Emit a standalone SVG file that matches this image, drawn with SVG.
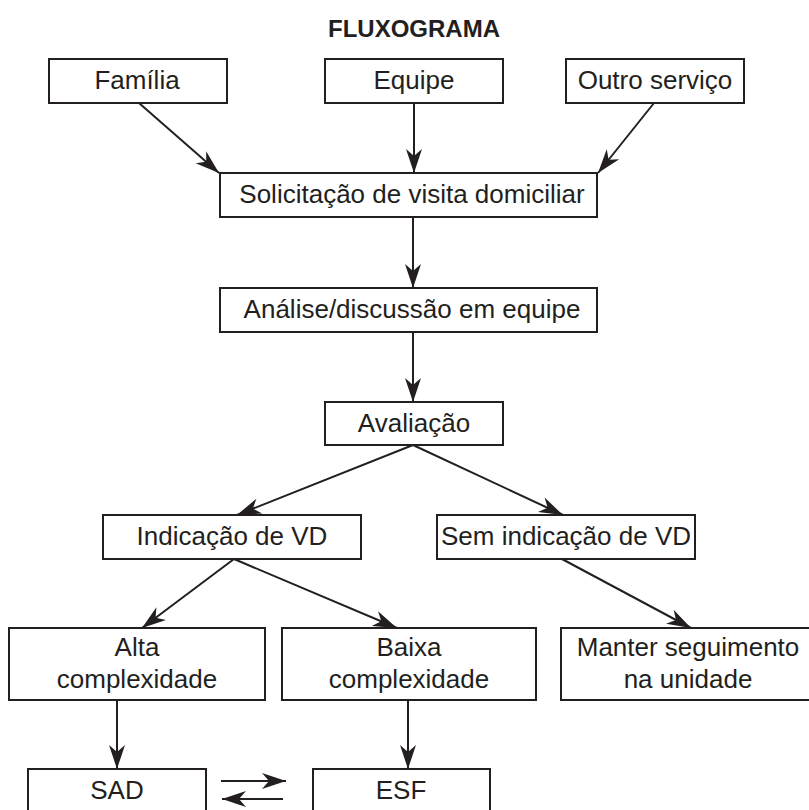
<svg xmlns="http://www.w3.org/2000/svg" width="809" height="810" viewBox="0 0 809 810">
<style>
  .box { fill: #ffffff; stroke: #231f20; stroke-width: 2; }
  .lbl { font-family: "Liberation Sans", Arial, sans-serif; font-size: 26px; fill: #231f20; text-anchor: middle; }
  .title { font-family: "Liberation Sans", Arial, sans-serif; font-size: 24px; font-weight: bold; fill: #231f20; text-anchor: middle; }
  .conn line { stroke: #231f20; stroke-width: 2; marker-end: url(#ah); }
</style>
<defs>
  <marker id="ah" markerUnits="userSpaceOnUse" orient="auto" viewBox="-26 -11 28 22" refX="0" refY="0" markerWidth="28" markerHeight="22">
    <path d="M0,0 L-24,-8 L-17,0 L-24,8 Z" fill="#231f20"/>
  </marker>
</defs>
<rect width="809" height="810" fill="#ffffff"/>
<text class="title" x="414" y="37">FLUXOGRAMA</text>

<g id="familia"><rect class="box" x="49" y="59" width="178" height="44"/><text class="lbl" x="137" y="89">Família</text></g>
<g id="equipe"><rect class="box" x="325" y="59" width="178" height="44"/><text class="lbl" x="414" y="89">Equipe</text></g>
<g id="outro"><rect class="box" x="566" y="59" width="178" height="44"/><text class="lbl" x="655" y="89">Outro serviço</text></g>
<g id="solicitacao"><rect class="box" x="220" y="173" width="377" height="44"/><text class="lbl" x="412" y="203">Solicitação de visita domiciliar</text></g>
<g id="analise"><rect class="box" x="220" y="288" width="377" height="44"/><text class="lbl" x="412" y="318">Análise/discussão em equipe</text></g>
<g id="avaliacao"><rect class="box" x="325" y="402" width="178" height="43"/><text class="lbl" x="414" y="432">Avaliação</text></g>
<g id="indicacao"><rect class="box" x="103" y="515" width="258" height="44"/><text class="lbl" x="232" y="545">Indicação de VD</text></g>
<g id="sem"><rect class="box" x="437" y="515" width="258" height="44"/><text class="lbl" x="566" y="545">Sem indicação de VD</text></g>
<g id="alta"><rect class="box" x="9" y="628" width="256" height="72"/><text class="lbl" x="137" y="656">Alta</text><text class="lbl" x="137" y="688">complexidade</text></g>
<g id="baixa"><rect class="box" x="282" y="628" width="254" height="72"/><text class="lbl" x="409" y="656">Baixa</text><text class="lbl" x="409" y="688">complexidade</text></g>
<g id="manter"><rect class="box" x="561" y="628" width="256" height="72"/><text class="lbl" x="688" y="656">Manter seguimento</text><text class="lbl" x="688" y="688">na unidade</text></g>
<g id="sad"><rect class="box" x="28" y="769" width="178" height="50"/><text class="lbl" x="117" y="799">SAD</text></g>
<g id="esf"><rect class="box" x="313" y="769" width="177" height="50"/><text class="lbl" x="401" y="799">ESF</text></g>

<g id="connectors" class="conn">
  <line x1="139" y1="103" x2="219" y2="173"/>
  <line x1="414" y1="103" x2="414" y2="173"/>
  <line x1="654" y1="103" x2="598" y2="173"/>
  <line x1="413" y1="217" x2="413" y2="288"/>
  <line x1="413" y1="332" x2="413" y2="402"/>
  <line x1="413" y1="445" x2="237" y2="515"/>
  <line x1="413" y1="445" x2="563" y2="515"/>
  <line x1="234" y1="559" x2="142" y2="628"/>
  <line x1="234" y1="559" x2="397" y2="628"/>
  <line x1="562" y1="559" x2="691" y2="628"/>
  <line x1="117" y1="700" x2="117" y2="769"/>
  <line x1="408" y1="700" x2="408" y2="769"/>
  <line x1="221" y1="781" x2="286" y2="781"/>
  <line x1="283" y1="799" x2="222" y2="799"/>
</g>
</svg>
